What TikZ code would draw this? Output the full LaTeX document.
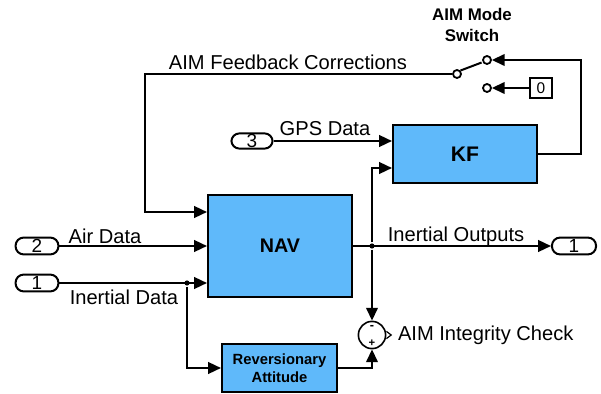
\documentclass[tikz,border=0pt]{standalone}
\usepackage{fontspec}
\setmainfont{Liberation Sans}
\usetikzlibrary{arrows.meta,calc}
\definecolor{blockblue}{RGB}{95,185,250}

\begin{document}
\begin{tikzpicture}[x=0.025cm,y=-0.025cm,line width=0.05cm,
  >={Triangle[length=0.32cm,width=0.29cm]},
  block/.style={draw,fill=blockblue,inner sep=0pt,font=\bfseries\fontsize{14}{16}\selectfont},
  port/.style={draw,rounded corners=0.2cm,minimum width=1.07cm,minimum height=0.42cm,inner sep=0pt,font=\fontsize{13.5}{13.5}\selectfont},
  lbl/.style={inner sep=0pt,font=\fontsize{14.3}{16}\selectfont},
  term/.style={circle,draw,line width=0.045cm,minimum size=0.2cm,inner sep=0pt},
  dot/.style={circle,fill,minimum size=0.13cm,inner sep=0pt}]
  \useasboundingbox (0,0) rectangle (601,394);

  % blocks
  \node[block,minimum width=3.6cm,minimum height=2.55cm] (nav) at (280,246) {NAV};
  \node[block,minimum width=3.6cm,minimum height=1.45cm,font=\bfseries\fontsize{15}{17}\selectfont] (kf) at (465,154) {KF};
  \node[block,minimum width=2.875cm,minimum height=1.2cm,align=center,
        font=\bfseries\fontsize{10.5}{13}\selectfont] (rev) at (279.5,368) {Reversionary\\Attitude};
  \node[circle,draw,line width=0.04cm,minimum size=0.68cm,inner sep=0pt] (sum) at (372,335) {};
  \node[inner sep=0pt,font=\bfseries\fontsize{9}{9}\selectfont] at (372,327) {-};
  \node[inner sep=0pt,font=\bfseries\fontsize{8}{8}\selectfont] at (372,343) {+};
  \draw[line width=0.03cm] ([yshift=0.09cm]sum.east) -- ++(0.12cm,-0.09cm) -- ++(-0.12cm,-0.09cm);

  % ports
  \node[port] (in2) at (37,246) {2};
  \node[port] (in1) at (37,283) {1};
  \node[port,minimum width=1.03cm,minimum height=0.38cm] (in3) at (252,141) {3};
  \node[port,minimum width=1.1cm] (out1) at (574,246) {1};

  % mode switch and constant
  \node[term] (swl) at (457,74) {};
  \node[term] (swu) at (487,60) {};
  \node[term] (swd) at (487,88) {};
  \node[draw,line width=0.035cm,minimum width=0.55cm,minimum height=0.5cm,inner sep=0pt,
        font=\fontsize{11}{11}\selectfont] (zero) at (541,88) {0};
  \draw (swl.north east) -- ($(swl)!0.82!(swu)$);
  \node[align=center,font=\bfseries\fontsize{12}{14.5}\selectfont] at (472,25) {AIM Mode\\Switch};

  % signals
  \coordinate (fbturn) at (145,74);
  \coordinate (fbin) at (145,212);
  \coordinate (kfturn) at (581,154);
  \coordinate (kfin) at (372,168);
  \node[dot] (br1) at (187,283) {};
  \node[dot] (br2) at (372,246) {};

  \draw[->] (swl.west) -- (fbturn) -- (fbin) -- (fbin -| nav.west);
  \draw[->] (in2.east) -- (in2.east -| nav.west);
  \draw[->] (in1.east) -- (in1.east -| nav.west);
  \draw[->] (br1) |- (rev.west);
  \draw[->] (in3.east) -- (in3.east -| kf.west);
  \draw[->] (nav.east) -- (out1.west);
  \draw[->] (br2) -- (kfin) -- (kfin -| kf.west);
  \draw[->] (br2) -- (sum.north);
  \draw[->] (rev.east) -| (sum.south);
  \draw[->] (kf.east) -- (kfturn) |- (swu.east);
  \draw[->] (zero.west) -- (swd.east);

  % labels
  \node[lbl] at (288,62) {AIM Feedback Corrections};
  \node[lbl] at (325,129) {GPS Data};
  \node[lbl] at (105,236) {Air Data};
  \node[lbl] at (124,297) {Inertial Data};
  \node[lbl] at (456,236) {Inertial Outputs};
  \node[lbl,anchor=west] at (397,335) {AIM Integrity Check};
\end{tikzpicture}
\end{document}
